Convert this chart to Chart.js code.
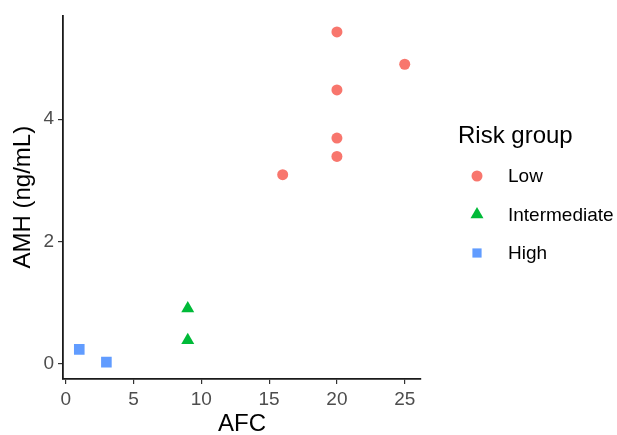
<!DOCTYPE html>
<html>
<head>
<meta charset="utf-8">
<script src="https://cdn.jsdelivr.net/npm/chart.js@4/dist/chart.umd.min.js"></script>
<style>
  html, body { margin: 0; padding: 0; background: #fff; }
  #wrap { width: 617px; height: 435px; }
</style>
</head>
<body>
<div id="wrap"><canvas id="scatterChart"></canvas></div>
<script>
// ========== DATOS ==========
const grupos = ['Low', 'Intermediate', 'High'];
const coloresGrupos = ['#F8766D', '#00BA38', '#619CFF'];
const formasGrupos = ['circle', 'triangle', 'rect'];
const radiosGrupos = [5.5, 7.5, 7.5];

const afcLow = [20, 25, 20, 20, 20, 16];
const amhLow = [5.43, 4.90, 4.48, 3.69, 3.39, 3.09];
const afcIntermediate = [9, 9];
const amhIntermediate = [0.90, 0.38];
const afcHigh = [1, 3];
const amhHigh = [0.23, 0.02];

const ticksX = [0, 5, 10, 15, 20, 25];
const ticksY = [0, 2, 4];

const fuente = 'Liberation Sans, Arial, sans-serif';

function puntos(xs, ys) {
    return xs.map((x, i) => ({ x: x, y: ys[i] }));
}

const seriesDatos = [
    puntos(afcLow, amhLow),
    puntos(afcIntermediate, amhIntermediate),
    puntos(afcHigh, amhHigh)
];

// Leyenda dibujada a mano (al estilo ggplot)
const leyendaPlugin = {
    id: 'leyendaRiesgo',
    afterDraw(chart) {
        const ctx = chart.ctx;
        const x0 = chart.chartArea.right + 37;
        ctx.save();
        ctx.fillStyle = '#000';
        ctx.font = '24px ' + fuente;
        ctx.textAlign = 'left';
        ctx.textBaseline = 'middle';
        ctx.fillText('Risk group', x0, 136);
        ctx.font = '19px ' + fuente;
        grupos.forEach((g, i) => {
            const y = 176 + i * 38.5;
            ctx.fillStyle = coloresGrupos[i];
            Chart.helpers.drawPoint(ctx, {
                pointStyle: formasGrupos[i],
                radius: i === 0 ? 5.5 : (i === 1 ? 7.5 : 6.5),
                rotation: 0,
                borderWidth: 0
            }, x0 + 19, y);
            ctx.fillStyle = '#000';
            ctx.fillText(g, x0 + 50, y + 1);
        });
        ctx.restore();
    }
};

const ctx = document.getElementById('scatterChart').getContext('2d');
const scatterChart = new Chart(ctx, {
    type: 'scatter',
    data: {
        datasets: grupos.map((g, i) => ({
            label: g,
            data: seriesDatos[i],
            backgroundColor: coloresGrupos[i],
            borderWidth: 0,
            pointStyle: formasGrupos[i],
            pointRadius: radiosGrupos[i],
            pointHoverRadius: radiosGrupos[i]
        }))
    },
    options: {
        responsive: true,
        maintainAspectRatio: false,
        animation: false,
        layout: {
            padding: { left: 0, right: 196, top: 14, bottom: 0 }
        },
        plugins: {
            legend: { display: false },
            tooltip: { enabled: false }
        },
        scales: {
            x: {
                type: 'linear',
                min: -0.2,
                max: 26.2,
                afterBuildTicks: (scale) => {
                    scale.ticks = ticksX.map(v => ({ value: v }));
                },
                afterFit: (scale) => { scale.height = 56; },
                border: { display: true, color: '#1a1a1a', width: 1.8 },
                grid: { drawOnChartArea: false, drawTicks: true, tickLength: 5, color: '#333', lineWidth: 1.2 },
                ticks: {
                    color: '#4D4D4D',
                    padding: 4,
                    font: { family: fuente, size: 19 }
                },
                title: {
                    display: true,
                    text: 'AFC',
                    color: '#000',
                    padding: { top: 0, bottom: 0 },
                    font: { family: fuente, size: 24, lineHeight: 0.85 }
                }
            },
            y: {
                type: 'linear',
                min: -0.256,
                max: 5.70,
                afterBuildTicks: (scale) => {
                    scale.ticks = ticksY.map(v => ({ value: v }));
                },
                afterFit: (scale) => { scale.width = 63; },
                border: { display: true, color: '#1a1a1a', width: 1.8 },
                grid: { drawOnChartArea: false, drawTicks: true, tickLength: 5, color: '#333', lineWidth: 1.2 },
                ticks: {
                    color: '#4D4D4D',
                    padding: 4,
                    font: { family: fuente, size: 19 }
                },
                title: {
                    display: true,
                    text: 'AMH (ng/mL)',
                    color: '#000',
                    padding: { top: 9, bottom: 0 },
                    font: { family: fuente, size: 24 }
                }
            }
        }
    },
    plugins: [leyendaPlugin]
});
</script>
</body>
</html>
